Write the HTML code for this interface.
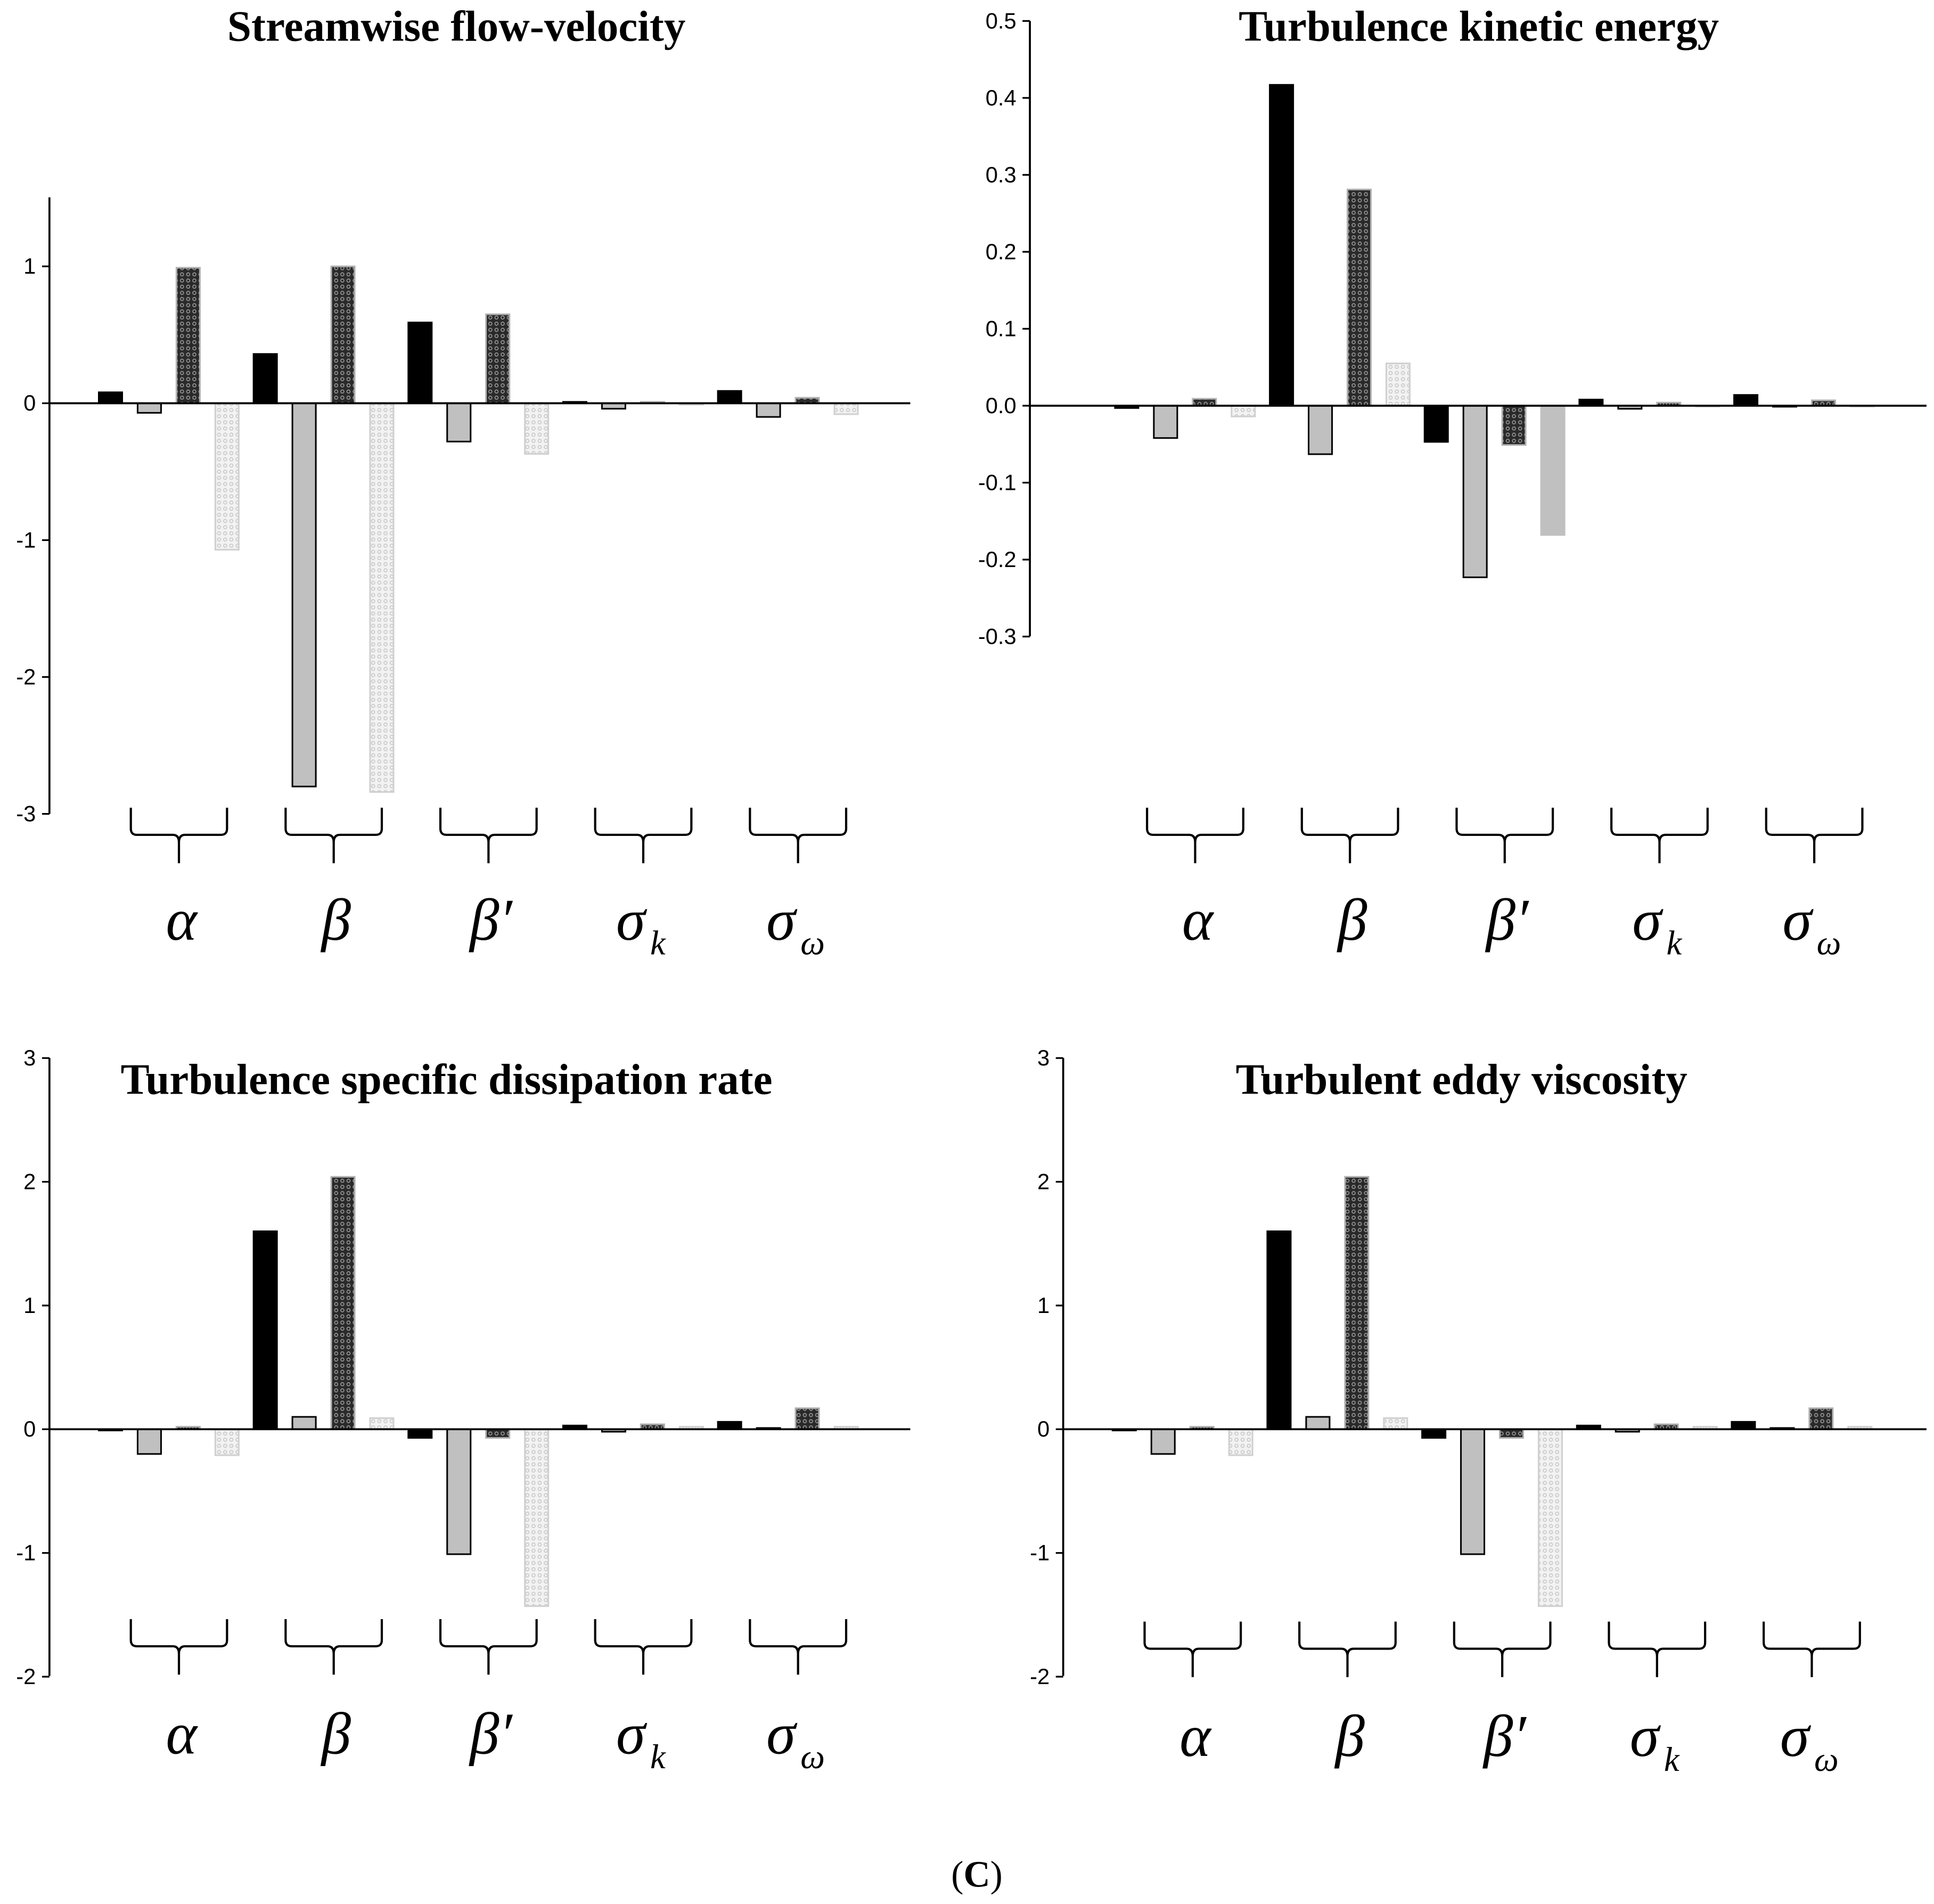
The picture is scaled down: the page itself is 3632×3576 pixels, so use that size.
<!DOCTYPE html>
<html><head><meta charset="utf-8"><style>
html,body{margin:0;padding:0;background:#fff;}
svg{display:block;}
</style></head><body>
<svg id="fig" xmlns="http://www.w3.org/2000/svg" width="3632" height="3576" viewBox="0 0 1568 1544">
<defs>
<pattern id="darkpat" width="5" height="5" patternUnits="userSpaceOnUse">
<rect width="5" height="5" fill="#2a2a2a"/><circle cx="2.5" cy="2.5" r="1.3" fill="none" stroke="#9a9a9a" stroke-width="0.7"/>
</pattern>
<pattern id="lightpat" width="5" height="5" patternUnits="userSpaceOnUse">
<rect width="5" height="5" fill="#f2f2f2"/><circle cx="2.5" cy="2.5" r="1.3" fill="none" stroke="#c8c8c8" stroke-width="0.7"/>
</pattern>
</defs>
<text x="792" y="1530" text-anchor="middle" font-family="Liberation Serif, serif" font-size="30">(<tspan font-weight="bold">C</tspan>)</text>
</svg>
<script>
const groupNames = ['α','β','β′','σ','σ'];
const groupSubs = ['','','','k','ω'];
const seriesNames = ['series-1','series-2','series-3','series-4'];
const velocityValues = [[0.08,-0.07,0.99,-1.07],[0.36,-2.8,1.0,-2.84],[0.59,-0.28,0.65,-0.37],[0.01,-0.04,0.01,-0.01],[0.09,-0.1,0.04,-0.08]];
const tkeValues = [[-0.003,-0.042,0.009,-0.014],[0.417,-0.063,0.281,0.055],[-0.047,-0.223,-0.051,-0.168],[0.008,-0.004,0.004,-0.001],[0.014,0,0.007,0]];
const omegaValues = [[-0.01,-0.2,0.02,-0.21],[1.6,0.1,2.04,0.09],[-0.07,-1.01,-0.07,-1.43],[0.03,-0.02,0.04,0.02],[0.06,0.01,0.17,0.02]];
const viscValues = [[-0.01,-0.2,0.02,-0.21],[1.6,0.1,2.04,0.09],[-0.07,-1.01,-0.07,-1.43],[0.03,-0.02,0.04,0.02],[0.06,0.01,0.17,0.02]];
const velocityTicks = [1,0,-1,-2,-3];
const tkeTicks = [0.5,0.4,0.3,0.2,0.1,0.0,-0.1,-0.2,-0.3];
const omegaTicks = [3,2,1,0,-1,-2];
const viscTicks = [3,2,1,0,-1,-2];

const NS='http://www.w3.org/2000/svg';
const svg=document.getElementById('fig');
function mk(tag,attrs,parent){const e=document.createElementNS(NS,tag);for(const k in attrs)e.setAttribute(k,attrs[k]);(parent||svg).appendChild(e);return e;}

const fills=['#000','#c0c0c0','url(#darkpat)','url(#lightpat)'];
const strokes=['#000','#000','#b0b0b0','#d0d0d0'];

function panel(o){
  const g=mk('g',{});
  
  
  const yv=v=>o.y0+(v-o.v0)*(o.y1-o.y0)/(o.v1-o.v0);
  const ax=mk('line',{x1:o.ax,x2:o.ax,y1:o.axTop,y2:o.axBot,stroke:'#000','stroke-width':1.6},g);
  
  
  o.ticks.forEach(t=>{
    const ty=yv(t);
    mk('line',{x1:o.ax-6,x2:o.ax,y1:ty,y2:ty,stroke:'#000','stroke-width':1.4},g);
    const tl=mk('text',{x:o.ax-11,y:ty+6,'text-anchor':'end','font-family':'Liberation Sans, sans-serif','font-size':18},g);
    tl.textContent=o.fmt?t.toFixed(1):String(t);
    
    
  });
  o.values.forEach((grp,gi)=>{
    grp.forEach((v,si)=>{
      const x=o.x0+gi*125.5+si*31.5;
      const ya=yv(0), yb=yv(v);
      let f=fills[si], s=strokes[si];
      if(o.plainLast && si===3 && gi===2){f='#c0c0c0'; s='#c0c0c0';}
      const r=mk('rect',{x:x,y:Math.min(ya,yb),width:19,height:Math.max(Math.abs(yb-ya),0.8),fill:f,stroke:s,'stroke-width':1.3},g);
      
      
    });
  });
  const zl=mk('line',{x1:o.ax,x2:o.axEnd,y1:yv(0),y2:yv(0),stroke:'#000','stroke-width':1.6},g);
  
  
  for(let gi=0;gi<5;gi++){
    const cx=o.x0+65+gi*125.5, bt=o.braceTop, bm=bt+22, bb=bt+45;
    const p=mk('path',{d:`M${cx-39},${bt} L${cx-39},${bm-5} Q${cx-39},${bm} ${cx-34},${bm} L${cx-5},${bm} Q${cx},${bm} ${cx},${bm+6} L${cx},${bb} M${cx},${bm+6} Q${cx},${bm} ${cx+5},${bm} L${cx+34},${bm} Q${cx+39},${bm} ${cx+39},${bm-5} L${cx+39},${bt}`,fill:'none',stroke:'#000','stroke-width':1.8},g);
    
    
    const t=mk('text',{x:cx+2-(groupSubs[gi]?4:0),y:o.labelY,'text-anchor':'middle','font-family':'Liberation Serif, serif','font-style':'italic','font-size':48},g);
    t.textContent=groupNames[gi];
    if(groupSubs[gi]){const s=mk('tspan',{'font-size':28,dy:12,dx:4},t);s.textContent=groupSubs[gi];}
    
    
  }
  const ti=mk('text',{x:o.titleX,y:o.titleY,'text-anchor':'middle','font-family':'Liberation Serif, serif','font-weight':'bold','font-size':35},g);
  ti.textContent=o.title;
  
  
}

panel({name:'streamwise-velocity-chart',title:'Streamwise flow-velocity',titleX:370,titleY:33,ax:40,axTop:160,axBot:660,axEnd:738,v0:0,y0:327,v1:1,y1:216,ticks:velocityTicks,values:velocityValues,x0:80,braceTop:655,labelY:762});
panel({name:'tke-chart',title:'Turbulence kinetic energy',titleX:1199,titleY:33,ax:835,axTop:17,axBot:516,axEnd:1562,v0:0,y0:329,v1:0.5,y1:17,ticks:tkeTicks,fmt:true,plainLast:true,values:tkeValues,x0:904,braceTop:655,labelY:762});
panel({name:'dissipation-rate-chart',title:'Turbulence specific dissipation rate',titleX:362,titleY:887,ax:40,axTop:858,axBot:1359,axEnd:738,v0:0,y0:1159,v1:3,y1:858,ticks:omegaTicks,values:omegaValues,x0:80,braceTop:1313,labelY:1422});
panel({name:'eddy-viscosity-chart',title:'Turbulent eddy viscosity',titleX:1185,titleY:887,ax:862,axTop:858,axBot:1359,axEnd:1562,v0:0,y0:1159,v1:3,y1:858,ticks:viscTicks,values:viscValues,x0:902,braceTop:1315,labelY:1424});
</script>
</body></html>
